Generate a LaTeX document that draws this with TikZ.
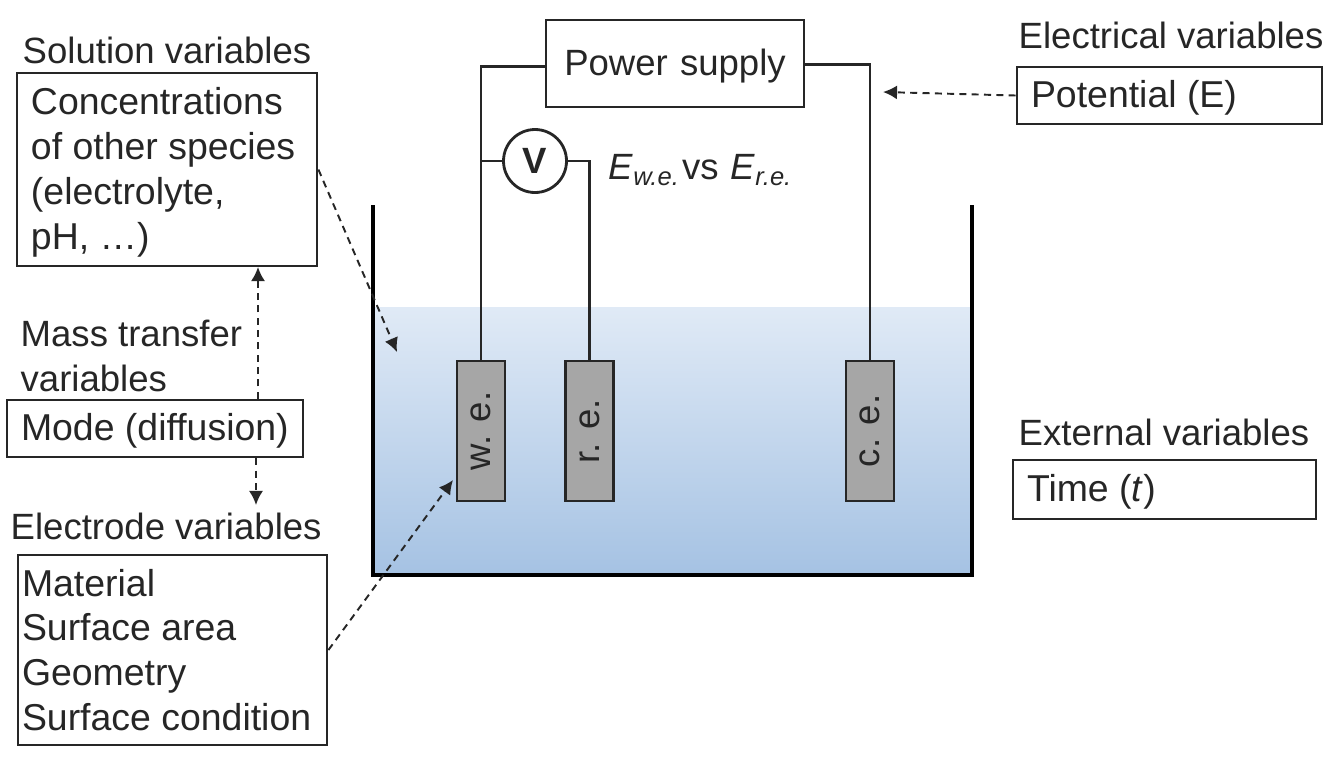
\documentclass[tikz,border=0pt]{standalone}
\usepackage{fontspec}
\setmainfont{Liberation Sans}
\usetikzlibrary{arrows.meta}
\definecolor{inkgrey}{HTML}{262626}
\definecolor{watertop}{HTML}{E0EAF6}
\definecolor{waterbottom}{HTML}{A5C2E3}
\definecolor{rodgrey}{HTML}{A6A6A6}
\tikzset{
  lbl/.style={anchor=west,inner sep=0pt,text=inkgrey,font=\fontsize{10.4}{12.6}\selectfont},
  varbox/.style={draw=inkgrey,line width=.8pt,inner ysep=0pt,inner xsep=.14cm,align=flush left,text=inkgrey,font=\fontsize{10.65}{12.75}\selectfont},
  oneline/.style={text height=7.1pt,text depth=0pt},
  rod/.style={draw=inkgrey,fill=rodgrey,line width=.8pt,minimum width=.48cm,minimum height=1.4cm,inner sep=0pt,text=inkgrey,font=\fontsize{10.4}{12.6}\selectfont},
  wire/.style={draw=inkgrey,line width=.8pt},
  dashlink/.style={draw=inkgrey,line width=.55pt,dash pattern=on 2pt off 1.5pt,-{Latex[length=4pt,width=4pt]}},
}
\begin{document}
\begin{tikzpicture}
\useasboundingbox (0,0) rectangle (13.34,7.58);
\fill[top color=watertop,bottom color=waterbottom] (3.73,4.51) rectangle (9.72,1.83);
\draw[draw=black,line width=1.1pt] (3.73,5.53) -- (3.73,1.83) -- (9.72,1.83) -- (9.72,5.53);
\node[rod] (we) at (4.81,3.27) {\rotatebox{90}{w. e.}};
\node[rod] (re) at (5.895,3.27) {\rotatebox{90}{r. e.}};
\node[rod] (ce) at (8.70,3.27) {\rotatebox{90}{c. e.}};
\node[varbox,oneline,text width=2.30cm,minimum height=.87cm,align=center,font=\fontsize{10.4}{12.6}\selectfont] (power) at (6.75,6.945) {Power supply};
\node[circle,draw=inkgrey,line width=.8pt,minimum size=.63cm,inner sep=0pt,text=inkgrey,font=\fontsize{10.4}{12}\selectfont\bfseries] (vm) at (5.35,5.97) {V};
\node[lbl] (evse) at (6.08,5.88) {\textit{E}\textsubscript{\textit{w.e.}}\hspace{.4pt}vs\hspace{3.4pt}\textit{E}\textsubscript{\textit{r.e.}}};
\draw[wire] ([yshift=-.9pt]power.west) -| (we.north);
\draw[wire] ([yshift=-.3pt]power.east) -| (ce.north);
\draw[wire] (vm.west) -- (vm.west -| we.north);
\draw[wire] (vm.east) -| (re.north);
\node[lbl] (soltitle) at (.22,7.08) {Solution variables};
\node[varbox,text width=2.72cm,minimum height=1.93cm] (solbox) at (1.67,5.885) {\rule{0pt}{9.3pt}Concentrations\\of other species\\(electrolyte,\\pH, \ldots)};
\node[lbl] (elctitle) at (10.18,7.23) {Electrical variables};
\node[varbox,oneline,text width=2.77cm,minimum height=.57cm] (potbox) at (11.695,6.625) {Potential (E)};
\node[lbl,align=left] (masstitle) at (.20,4.02) {Mass transfer\\variables};
\node[varbox,oneline,text width=2.68cm,minimum height=.57cm] (modebox) at (1.55,3.295) {Mode (diffusion)};
\node[lbl] (electitle) at (.10,2.32) {Electrode variables};
\node[varbox,text width=3.01cm,inner xsep=.04cm,minimum height=1.90cm] (elecbox) at (1.725,1.08) {Material\\Surface area\\Geometry\\Surface condition};
\node[lbl] (exttitle) at (10.18,3.26) {External variables};
\node[varbox,oneline,text width=2.75cm,minimum height=.59cm] (timebox) at (11.645,2.685) {Time (\textit{t})};
\coordinate (potend) at (8.83,6.66);
\coordinate (solend) at (3.97,4.06);
\coordinate (elecend) at (4.53,2.78);
\coordinate (modeup) at (2.58,4.91);
\coordinate (modedown) at (2.56,2.53);
\draw[dashlink] (potbox.west) -- (potend);
\draw[dashlink] (solbox.east) -- (solend);
\draw[dashlink] (elecbox.east) -- (elecend);
\draw[dashlink] (modebox.north -| modeup) -- (modeup);
\draw[dashlink] (modebox.south -| modedown) -- (modedown);
\end{tikzpicture}
\end{document}
